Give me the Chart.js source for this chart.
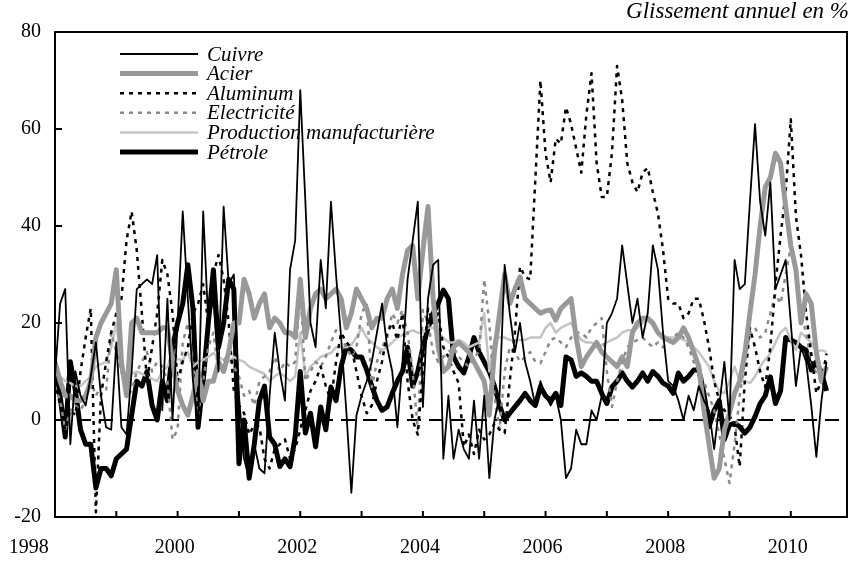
<!DOCTYPE html>
<html>
<head>
<meta charset="utf-8">
<script src="https://cdn.jsdelivr.net/npm/chart.js@4.4.1/dist/chart.umd.min.js"></script>
<style>
    html, body { margin: 0; padding: 0; background: #fff; }
    #wrap { width: 857px; height: 567px; position: relative; }
</style>
</head>
<body>
<div id="wrap"><canvas id="chartMetaux"></canvas></div>
<script>
// ── DONNÉES (mensuelles, à partir de janvier 1998) ──
const startYear = 1998;
const yearTicks = [1998, 1999, 2000, 2001, 2002, 2003, 2004, 2005, 2006, 2007, 2008, 2009, 2010];
const axisEnd = 2010 + 11 / 12;
const titre = "Glissement annuel en %";
const noms = ["Cuivre", "Acier", "Aluminum", "Electricité", "Production manufacturière", "Pétrole"];

const cuivre = [
    9, 24, 27, -5, 10, 5, 3, 9, 16, 5, -1.5, -2,
    16, -1.5, -3, 10, 27, 28, 29, 28, 34, 2, 25, 0,
    20, 43, 25, 8, -1.5, 43, 20, 25, 10, 44, 28, 30,
    5, -8, -12, -5, -10, -11, 5, 18, 10, 4, 31, 37,
    68, 45, 20, 15, 33, 23, 45, 30, 17, 2, -15, 1,
    5, 8, 12, 18, 24, 15, 10, -1.5, 12, 29, 37, 45,
    2.7, 25, 32, 33, -8, 5, -8, -2, -6, -8, 4, -8,
    5, -12, 0, 5, 32, 22, 14, 20, 12, 8, 3, 8,
    5, 3, 5, 0, -12, -10, -2, -5, -5, 2, 0, 5,
    20, 22, 25, 36, 28, 20, 25, 17, 22, 36, 31, 18,
    8, 7, 4, 0, 5, 2, 7, 4, 2, -6, 3, 12,
    0, 33, 27, 28, 45, 61, 45, 38, 49, 27, 30, 33,
    20, 7, 15, 12, 3, -7.6, 4, 12
];
const acier = [
    12, 8, 5, 5, 4, 4, 5, 8, 17, 20, 22, 24,
    31, 12, 5, 20, 21, 18, 18, 18, 18, 19, 19, 12,
    6, 3, 1, 5, 10, 4, 8, 8, 12, 10, 14, 20,
    20, 29, 26, 21, 24, 26, 19, 21, 20, 18, 18, 17,
    29, 17, 23, 26, 27, 25, 26, 27, 25, 19, 22, 27,
    25, 23, 19, 21, 21, 25, 27, 23, 30, 35, 36, 25,
    35, 44, 25, 15, 10, 11, 15, 16, 15, 14, 12, 10,
    8, 1, 14, 22, 30, 24, 27, 29.5, 25, 24, 23, 22,
    22.5, 22.7, 20.6, 23, 24, 25, 17, 11, 13, 14.5, 16, 14,
    13, 12, 11, 13, 11, 18, 20, 21, 21, 20, 18, 17,
    16.5, 16, 17, 19, 17, 14, 11, 2, -5, -12, -10, -2,
    1.5, 5.5, 8, 13.7, 22, 30, 40, 48, 50, 55, 53, 44,
    36, 31, 20, 26, 24, 14, 8, 11
];
const aluminum = [
    8, 3, -2, 2, 1, 10, 17, 23, -19, 5, 12, 18,
    22, 25, 37, 43, 35, 22, 8, 15, 22, 33, 30, 22,
    8, 12, 15, 22, 24, 28, 20, 30, 34, 29, 20, 6,
    3, 1.4, -3, -1, -1.4, -8, -10, -6, -5, -4, -8, -6,
    -2, 2, 6, 8, 11, 7, 4, 12, 18, 16, 15, 10,
    5, 1.4, 3, 8, 12, 18, 20, 16.5, 22, 8, 0, -3,
    10, 23, 20, 22, 15, 13, 10, 7.6, -5.5, -3, -7, -2,
    -4, -3, -0.7, -2, -2.7, 8, 18, 31.6, 29.5, 29, 49.5, 70,
    55, 49, 58, 57, 64.5, 61, 56, 51, 63, 71.5, 53, 46,
    46, 55, 73, 66, 53, 49, 47, 51, 52, 47, 42.6, 35,
    25, 24, 24, 21, 22, 25, 25, 20.6, 15, 8, 4, 2,
    1, -1.4, -9.6, 8, 19, 15, 10, 6.8, 15, 28, 38, 47,
    62, 42, 34, 22, 13.7, 5.5, 8, 13.7
];
const electricite = [
    7, 4, -2, 2, 3, 2, 4, 8, 5, 7, 6, 18,
    14, 10, 5, 6, 10, 12, 14, 10, 12, 11, 8, -4,
    -2, 16, 20, 12, 1, 8, 15, 18, 10, 12, 14, 11,
    9, 5, 6, 3, 8, 9, 10, 13, 10, 12, 11, 12,
    27, 8, 10, 12, 11, 13, 16, 18.5, 17, 15, 13, 15,
    22, 24, 6.8, 12, 15, 17, 22, 20, 22.7, 18, 10, -2,
    22.7, 20, 14, 12, 13, 14, 15, 13, 12, 11, 13, 14,
    29, 20, 5, -2, 10, 15, 14, 12, 13, 14, 12, 11.7,
    14, 16.5, 17, 16, 15, 17, 18, 18, 17, 19, 20, 21,
    10, 2.7, 8, 12, 15, 16, 16.5, 17, 16, 15, 16, 15,
    16, 17, 18, 17, 15, 12, 10, 8, 5, 2, -3, -8,
    -13, -5, 5, 12, 18, 19, 17, 18, 22, 26, 24, 30,
    35.7, 30, 22, 18, 12, 9.7, 8, 11
];
const production = [
    10, 9, 8, 7.6, 7, 7, 8, 9, 11, 11.5, 12, 15,
    20, 10, 9, 9.5, 10, 9.5, 9, 8.5, 8, 10, 11, 13,
    12.5, 12.4, 14, 11, 12, 12.4, 13, 13.8, 13, 12.4, 12, 13,
    12.4, 12, 11, 10.5, 10, 9.5, 8, 9, 9.7, 9, 8, 9,
    18, 9, 11, 12, 13, 13.5, 13.8, 15, 15, 15, 15.5, 17,
    19, 17, 16, 15, 14.4, 15, 16, 17, 17.5, 18, 18.5, 18,
    18, 19, 19, 18, 17, 16, 16, 16.5, 16, 15, 15.5, 16,
    22, 10, 16.5, 17, 17, 16.5, 16.5, 16.5, 16.5, 17, 17, 17,
    19, 20, 18, 19, 19.5, 20, 18, 16.5, 16, 16, 15, 15.5,
    16, 16.5, 17, 18, 18.5, 18.5, 19, 20, 20.5, 19.5, 18, 17.5,
    17, 17, 17, 16.5, 16, 15, 14, 12.5, 11, 8, 6, 5.5,
    8, 11, 8, 8, 7.6, 9, 11, 12.5, 13.7, 16, 18, 19,
    16.5, 14.4, 18, 17, 16, 14, 14.4, 14
];
const petrole = [
    10, 5, -3.5, 12, 6, -2, -5, -5, -14, -10, -10, -11.5,
    -8, -7, -6, 1, 8, 7, 10, 3, 0, 8, 4, 15,
    20, 24, 32, 23, -1.5, 8, 20, 31, 15, 20, 29, 27,
    -9, 0, -12, -5, 4, 7, -3.5, -5, -9.6, -8, -9.6, -3.5,
    10, -2.7, 1.4, -5.5, 2.7, -2, 6.8, 4, 11, 15, 14.4, 13,
    13, 10.3, 7, 4, 2, 2.7, 5.5, 8, 10, 15, 7, 10,
    15, 19, 22, 24, 26.8, 25, 13, 11, 9.7, 13, 17, 14,
    12, 10, 7, 3, 0, 1.4, 2.7, 4, 5.5, 4, 3, 6.8,
    5, 4, 5.5, 3, 13, 12.4, 9, 9.7, 9, 8, 8, 5.5,
    3.4, 6.8, 8, 9.7, 8, 6.8, 8, 9.7, 8, 10, 9, 7.6,
    7, 5.5, 9.7, 8, 9, 10.3, 10.3, 5.5, -1.4, 2, 4, -4,
    -1, -0.7, -1.4, -2.7, -1.5, 0.7, 3.4, 5, 8.9, 3.4, 6, 17,
    16.5, 16, 15, 14.4, 10.3, 12, 9.7, 6
];

const FONT = "'Liberation Serif', 'Times New Roman', serif";
const toPoints = arr => arr.map((v, i) => ({ x: startYear + i / 12, y: v }));
// la première étiquette (1998) est décalée à gauche du cadre, comme dans l'original
const premierDecalage = 0.38;

// ── cadre, repères intérieurs, ligne du zéro, légende et titre ──
const cadre = {
    id: "cadre",
    beforeDatasetsDraw(chart) {
        const { ctx, chartArea: a, scales: { y } } = chart;
        const y0 = y.getPixelForValue(0);
        ctx.save();
        ctx.strokeStyle = "#000";
        ctx.lineWidth = 2;
        ctx.setLineDash([14, 8]);
        ctx.beginPath();
        ctx.moveTo(a.left, y0);
        ctx.lineTo(a.right, y0);
        ctx.stroke();
        ctx.restore();

        // légende dans le graphique, en haut à gauche
        chart.data.datasets.forEach((ds, k) => {
            const yy = 54 + k * 19.6;
            ctx.save();
            ctx.strokeStyle = ds.borderColor;
            ctx.lineWidth = ds.borderWidth;
            ctx.setLineDash(ds.borderDash || []);
            ctx.beginPath();
            ctx.moveTo(120, yy);
            ctx.lineTo(198, yy);
            ctx.stroke();
            ctx.restore();
            ctx.save();
            ctx.fillStyle = "#000";
            ctx.font = "italic 21px " + FONT;
            ctx.textAlign = "left";
            ctx.textBaseline = "middle";
            ctx.fillText(ds.label, 207, yy + 1);
            ctx.restore();
        });
    },
    afterDraw(chart) {
        const { ctx, chartArea: a, scales: { x, y } } = chart;
        ctx.save();
        ctx.strokeStyle = "#000";
        ctx.lineWidth = 2;
        ctx.strokeRect(a.left, a.top, a.right - a.left, a.bottom - a.top);
        ctx.beginPath();
        x.ticks.forEach(t => {
            const px = x.getPixelForValue(t.value);
            if (px > a.left + 2) { ctx.moveTo(px, a.bottom); ctx.lineTo(px, a.bottom - 6); }
        });
        y.ticks.forEach(t => {
            const py = y.getPixelForValue(t.value);
            if (py > a.top + 2 && py < a.bottom - 2) { ctx.moveTo(a.left, py); ctx.lineTo(a.left + 7, py); }
        });
        ctx.stroke();
        ctx.fillStyle = "#000";
        ctx.font = "italic 23px " + FONT;
        ctx.textAlign = "right";
        ctx.textBaseline = "middle";
        ctx.fillText(titre, 849, 12);
        ctx.restore();
    }
};

const serie = (i, data, color, width, dash) => ({
    label: noms[i],
    data: toPoints(data),
    borderColor: color,
    borderWidth: width,
    borderDash: dash,
    borderJoinStyle: "round",
    pointRadius: 0,
    tension: 0,
    fill: false
});

new Chart(document.getElementById("chartMetaux"), {
    type: "line",
    data: {
        datasets: [
            serie(0, cuivre, "#000000", 1.8, []),
            serie(1, acier, "#999999", 5, []),
            serie(2, aluminum, "#000000", 2.5, [4, 5]),
            serie(3, electricite, "#8a8a8a", 2.5, [4, 5]),
            serie(4, production, "#c4c4c4", 2.5, []),
            serie(5, petrole, "#000000", 5, [])
        ]
    },
    options: {
        responsive: true,
        maintainAspectRatio: false,
        animation: false,
        devicePixelRatio: 1,
        layout: { padding: { top: 32, right: 10, left: 0, bottom: 0 } },
        plugins: { legend: { display: false }, tooltip: { enabled: false } },
        scales: {
            x: {
                type: "linear",
                min: startYear,
                max: axisEnd,
                grid: { display: false, drawTicks: false },
                border: { display: false },
                afterBuildTicks: s => {
                    s.ticks = yearTicks.map(v => ({ value: v === startYear ? v - premierDecalage : v }));
                },
                afterFit: s => { s.height = 50; s.paddingLeft = 0; s.paddingRight = 0; },
                ticks: {
                    font: { family: FONT, size: 20 }, color: "#000", padding: 19,
                    maxRotation: 0, autoSkip: false, labelOffset: -3,
                    callback: (v, i) => (yearTicks[i] % 2 === 0 ? String(yearTicks[i]) : "")
                }
            },
            y: {
                min: -20,
                max: 80,
                grid: { display: false, drawTicks: false },
                border: { display: false },
                afterFit: s => { s.width = 55; },
                ticks: { stepSize: 20, font: { family: FONT, size: 20 }, color: "#000", padding: 14 }
            }
        }
    },
    plugins: [cadre]
});
</script>
</body>
</html>
